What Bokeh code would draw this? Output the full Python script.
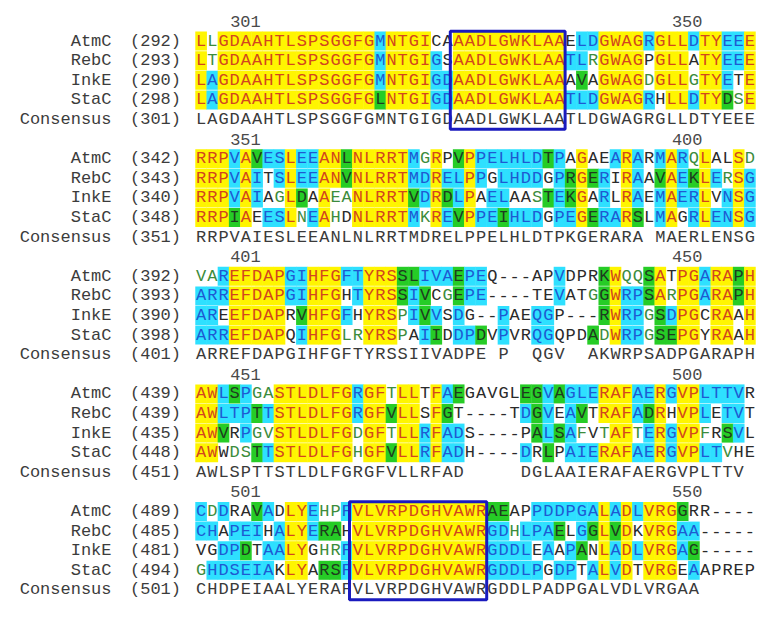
from bokeh.plotting import figure
from bokeh.models import ColumnDataSource, Range1d
from bokeh.core.properties import value
from bokeh.embed import file_html
from bokeh.resources import INLINE

NAMES = ["AtmC", "RebC", "InkE", "StaC", "Consensus"]
POS_LABELS = [("301", "350"), ("351", "400"), ("401", "450"), ("451", "500"), ("501", "550")]
STARTS = [[292, 293, 290, 298, 301],
          [342, 343, 340, 348, 351],
          [392, 393, 390, 398, 401],
          [439, 439, 435, 448, 451],
          [489, 485, 481, 494, 501]]

B1_SEQ = ["LLGDAAHTLSPSGGFGMNTGICAAADLGWKLAAELDGWAGRGLLDTYEEE",
          "LTGDAAHTLSPSGGFGMNTGIGSAADLGWKLAATLRGWAGPGLLATYEEE",
          "LAGDAAHTLSPSGGFGMNTGIGDAADLGWKLAAAVAGWAGDGLLGTYETE",
          "LAGDAAHTLSPSGGFGLNTGIGDAADLGWKLAATLDGWAGRHLLDTYDSE",
          "LAGDAAHTLSPSGGFGMNTGIGDAADLGWKLAATLDGWAGRGLLDTYEEE"]
B1_CLS = ["YgYYYYYYYYYYYYYYCYYYYWWYYYYYYYYYYWCCYYYYCYYYCYYCCY",
          "YgYYYYYYYYYYYYYYCYYYYCWYYYYYYYYYYCCgYYYYWYYYWYYCCY",
          "YCYYYYYYYYYYYYYYCYYYYCCYYYYYYYYYYWGWYYYYgYYYgYYCWY",
          "YCYYYYYYYYYYYYYYGYYYYCCYYYYYYYYYYCCCYYYYCWYYCYYGgY"]

B2_SEQ = ["RRPVAVESLEEANLNLRRTMGRPVPPELHLDTPAGAEARARMARQLALSD",
          "RRPVAITSLEEANVNLRRTMDRELPPGLHDDGPRGERIRAAVAEKLERSG",
          "RRPVAIAGLDAAEANLRRTVDRDLPAELAASTEKGARLRAEMAERLVNSG",
          "RRPIAEESLNEAHDNLRRTMKREVPPEIHLDGPEGERARSLMAGRLENSG",
          "RRPVAIESLEEANLNLRRTMDRELPPELHLDTPKGERARA MAERLENSG"]
B2_CLS = ["YYYCYGCCYCCYYGYYYYYCgYWGYCCCCCCGCWYWWCYCWCYCgYWWYg",
          "YYYCYCWCYCCYYGYYYYYCCYCCYCWCCCCWCGYGCWYCWGYCGYCgYC",
          "YYYCYCWgYGWYggYYYYYGCYGCYWCCWWgGCGYWCWYCWCYCCYWCYC",
          "YYYGYWCCYgCYgWYYYYYCgYCGYCCGCCCWCCYGCCYGWCYWCYCCYC"]

B3_SEQ = ["VAREFDAPGIHFGFTYRSSLIVAEPEQ---APVDPRKWQQSATPGARAPH",
          "ARREFDAPGIHFGHTYRSSIVCGEPE----TEVATGGWRPSARPGARAPH",
          "AREEFDAPRVHFGFHYRSPIVVSDG--PAEQGP---RWRPGSDPGCRAAH",
          "ARREFDAPQIHFGLRYRSPAIIDDPDVPVRQGQPDADWRPGSEPGYRAAH",
          "ARREFDAPGIHFGFTYRSSIIVADPE P  QGV  AKWRPSADPGARAPH"]
B3_CLS = ["ggCYYYYYCCYYYCCYYYGGCCCGCCWWWWWWCWWWGYggGYWYYCYYGY",
          "CCCYYYYYCCYYYWCYYYGCGWgGCCWWWWWWCWWgGYCCGYgYYCYYGY",
          "CCWYYYYYWGYYYCWYYYgCGCWCWWWCWWCCWWWWGYCCgGCYYWYYWY",
          "CCCYYYYYWCYYYggYYYgWCGWCCGWCWWCCWWWGgYCCgGGYYWYYWY"]

B4_SEQ = ["AWLSPGASTLDLFGRGFTLLTFAEGAVGLEGVAGLERAFAERGVPLTTVR",
          "AWLTPTTSTLDLFGRGFVLLSFGT----TDGVEAVTRAFADRHVPLETVT",
          "AWVRPGVSTLDLFGDGFTLLRFADS----PALSAFVTAFTERGVPFRSVL",
          "AWWDSTTSTLDLFGHGFVLLRFADH----DRLPAIERAFAERGVPLTVHE",
          "AWLSPTTSTLDLFGRGFVLLRFAD     DGLAAIERAFAERGVPLTTV "]
B4_CLS = ["YYCGCggYYYYYYYCYYgYYWYCGWWWWWGGCGCCCYYYCCYCYYCCCCW",
          "YYCCCGCYYYYYYYCYYGYYWYGWWWWWWCGCWCGWYYYCGYWYYCWCCW",
          "YYGWCggYYYYYYYgYYgYYCYCCWWWWWWGCGCgWgYYgCYCYYgWGCW",
          "YYWggGCYYYYYYYgYYGYYCYCCWWWWWCWGWCCCYYYCCYCYYCCgWW"]

B5_SEQ = ["CDDRAVADLYEHPFVLVRPDGHVAWRAEAPPDDPGALADLVRGGRR----",
          "CHAPEIHALYERAHVLVRPDGHVAWRGDHLPAELGGLVDKVRGAA-----",
          "VGDPDTAALYGHRFVLVRPDGHVAWRGDDLEAAPANLADLVRGAG-----",
          "GHDSEIAKLYARSFVLVRPDGHVAWRGDDLPGDPTALVDTVRGEAAPREP",
          "CHDPEIAALYERAFVLVRPDGHVAWRGDDLPADPGALVDLVRGAA     "]
B5_CLS = ["CgCWWGCWYYCggCYYYYYYYYYYYYGGWWCCCCCCYCYCYYYGWWWWWW",
          "CCWCCCWCYYCGGWYYYYYYYYYYYYCCgCCCGWCGYGYWYYYCCWWWWW",
          "WWCCGWCCYYWggCYYYYYYYYYYYYCCCCWCWCGWYCYCYYYCGWWWWW",
          "gCCCCCCWYYWGGCYYYYYYYYYYYYCCCCCWCCWCYCYWYYYWCWWWWW"]

SEQS = [B1_SEQ, B2_SEQ, B3_SEQ, B4_SEQ, B5_SEQ]
CLSS = [B1_CLS, B2_CLS, B3_CLS, B4_CLS, B5_CLS]
BOXES = [(0, 24, 33), (4, 15, 26)]   # block, first column, last column

# ---- styling / layout ----
TXT = {"Y": "#D2461E", "C": "#1E5AD2", "G": "#1E3C1E", "g": "#3C8C3C", "W": "#2A2A2A", "K": "#3A3A3A"}
BG = {"Y": "#FFF500", "C": "#2EE0FF", "G": "#26CC26"}
FONT = value("Liberation Mono")
W, H = 757, 608
CW = 11.2          # px per column
X0 = 195           # plot px of first column's left edge
RH = 19.6          # px per row
Y0 = 21            # plot px of first row centre
ROWS_PER_BLOCK = 6

p = figure(width=W, height=H, output_backend="svg", toolbar_location=None,
           x_range=Range1d(-X0 / CW, (W - X0) / CW),
           y_range=Range1d(-(H - Y0) / RH, Y0 / RH),
           x_axis_location=None, y_axis_location=None, min_border=0)
p.grid.visible = False
p.outline_line_color = None
p.background_fill_color = "white"
p.border_fill_color = "white"

bx, by, bc = [], [], []
tx, ty, tt, tc = [], [], [], []
nx, ny, nt = [], [], []
sx, sy, st = [], [], []
lx, ly, lt = [], [], []

for b in range(5):
    base = b * ROWS_PER_BLOCK
    left_lab, right_lab = POS_LABELS[b]
    lx += [4.46, 43.9]
    ly += [-base, -base]
    lt += [left_lab, right_lab]
    for r in range(5):
        row = base + 1 + r
        seq = SEQS[b][r]
        cls = CLSS[b][r] if r < 4 else "K" * len(seq)
        nx.append(-7.5); ny.append(-row); nt.append(NAMES[r])
        sx.append(-5.85); sy.append(-row); st.append("(%d)" % STARTS[b][r])
        for c, (ch, k) in enumerate(zip(seq, cls)):
            xc = c + 0.5
            if k in BG:
                bx.append(xc); by.append(-row); bc.append(BG[k])
            if ch != " ":
                tx.append(xc); ty.append(-row); tt.append(ch); tc.append(TXT[k])

p.rect(x="x", y="y", width=1.04, height=0.97, fill_color="c", line_color=None,
       source=ColumnDataSource(dict(x=bx, y=by, c=bc)))
p.text(x="x", y="y", text="t", text_color="c", source=ColumnDataSource(dict(x=tx, y=ty, t=tt, c=tc)),
       text_align="center", text_baseline="middle", text_font=FONT, text_font_size="17px")
p.text(x=nx, y=ny, text=nt, text_align="right", text_baseline="middle", text_font=FONT,
       text_font_size="17px", text_color="#3C3C3C")
p.text(x=sx, y=sy, text=st, text_align="left", text_baseline="middle", text_font=FONT,
       text_font_size="17px", text_color="#3C3C3C")
p.text(x=lx, y=ly, text=lt, text_align="center", text_baseline="middle", text_font=FONT,
       text_font_size="17px", text_color="#4A4A4A")

for blk, c0, c1 in BOXES:
    top = -(blk * ROWS_PER_BLOCK + 1) + 0.5
    bot = -(blk * ROWS_PER_BLOCK + 5) - 0.5
    left = c0 - 1 - 0.25
    right = c1
    p.quad(left=left, right=right, top=top, bottom=bot, fill_color=None,
           line_color="#1A1ABE", line_width=3)

open("out.html", "w").write(file_html(p, INLINE))
